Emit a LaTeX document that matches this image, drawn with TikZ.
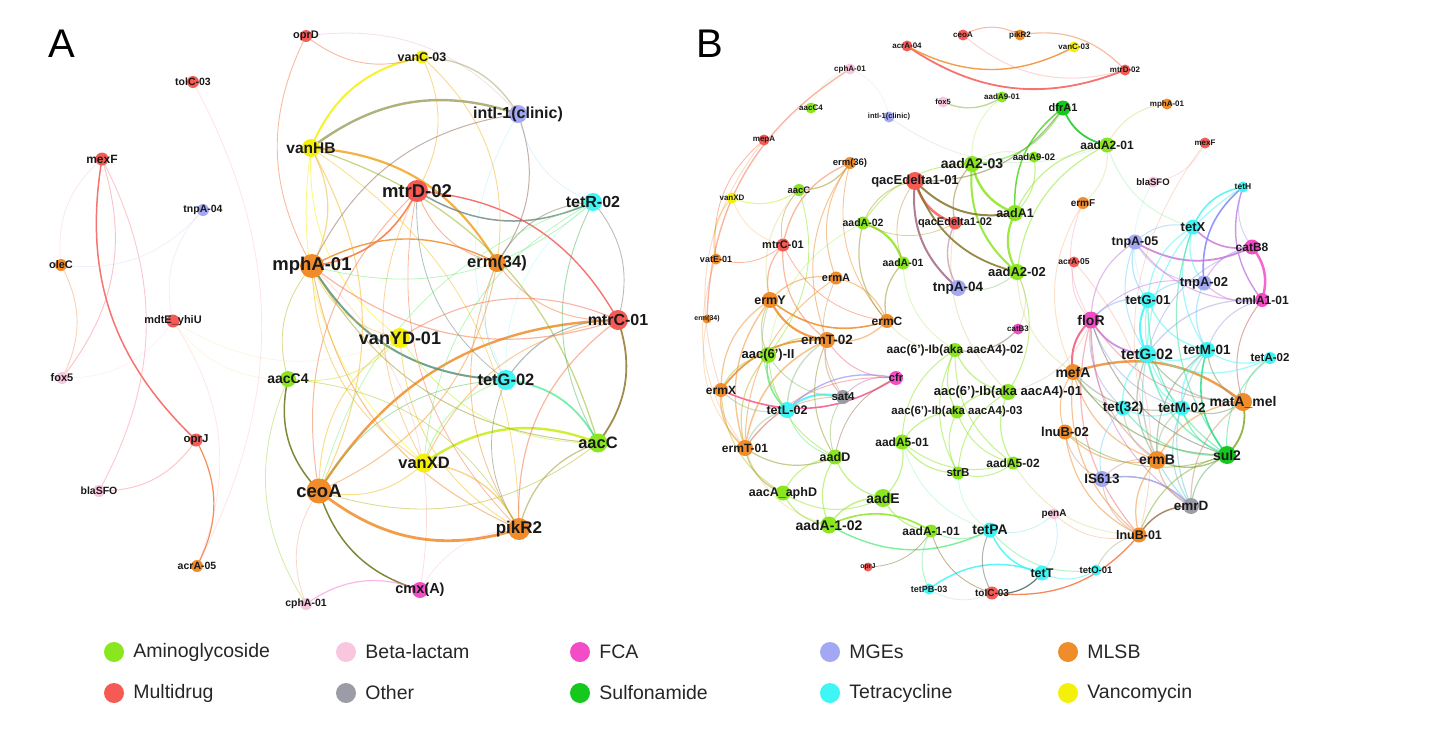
\documentclass[tikz,border=0pt]{standalone}
\usepackage{fontspec}
\setmainfont{Liberation Sans}
\usetikzlibrary{positioning}
\definecolor{am}{HTML}{8AE61E}
\definecolor{bl}{HTML}{F8C6DE}
\definecolor{fc}{HTML}{F24CC6}
\definecolor{mg}{HTML}{A3A8F5}
\definecolor{ml}{HTML}{F08C2A}
\definecolor{mu}{HTML}{F55A55}
\definecolor{ot}{HTML}{9C9CA6}
\definecolor{su}{HTML}{14C81E}
\definecolor{te}{HTML}{40F5F5}
\definecolor{va}{HTML}{F5F00A}
\pgfdeclarelayer{bg}
\pgfsetlayers{bg,main}

\begin{document}
\begin{tikzpicture}[x=1pt,y=1pt,
  gn/.style={circle,fill=#1,inner sep=0pt},
  lab/.style={font=\bfseries\fontsize{#1}{#1}\selectfont,text=black!90,inner sep=0pt},
  lk/.style={line width=#1,line cap=round}]
\useasboundingbox (0,0) rectangle (1430,-734);

\node[font=\fontsize{40}{40}\selectfont,inner sep=0pt] (pA) at (62,-44) {A};
\node[font=\fontsize{40}{40}\selectfont,inner sep=0pt] (pB) at (710,-44) {B};

\foreach \nm/\px/\py/\col/\d/\fs/\lbl in {
  aoprD/306/36/mu/12/11/oprD, atolC/193/82/mu/12/10.5/tolC-03,
  amexF/102/159/mu/13/12/mexF, atnpA/203/210/mg/12/10.5/tnpA-04,
  aoleC/61/265/ml/12/11/oleC, amdtE/173/321/mu/13/11/mdtE\_yhiU,
  afox/62/378/bl/12/11/fox5, aoprJ/196/440/mu/13/11.5/oprJ,
  abla/99/491/bl/12/10.5/blaSFO, aacrA/197/566/ml/12/10.5/acrA-05,
  acphA/306/604/bl/12/10.5/cphA-01, avanC/422/57/va/13/12.5/vanC-03,
  aintI/518/114/mg/18/16/intI-1(clinic), avanHB/311/148/va/18/15.5/vanHB,
  amtrD/417/191/mu/22/18.5/mtrD-02, atetR/593/202/te/18/16/tetR-02,
  amphA/312/266/ml/24/18.5/mphA-01, aerm/497/263/ml/18/16.5/erm(34),
  amtrC/618/320/mu/20/16/mtrC-01, avanYD/400/338/va/20/18/vanYD-01,
  aaacC4/288/379/am/16/14/aacC4, atetG/506/380/te/20/16.5/tetG-02,
  aaacC/598/443/am/19/16.5/aacC, avanXD/424/463/va/19/16.5/vanXD,
  aceoA/319/491/ml/25/18.5/ceoA, apikR/519/529/ml/22/17/pikR2,
  acmx/420/590/fc/16/14.5/cmx(A)}
  \node[gn=\col,minimum size=\d pt,label={[lab=\fs]center:\lbl}] (\nm) at (\px,-\py) {};

\foreach \nm/\px/\py/\col/\d/\fs/\lbl in {
  bacrAf/907/46/mu/11/8/acrA-04, bceoA/963/35/mu/11/8/ceoA,
  bpikR/1020/35/ml/11/8/pikR2, bvanC/1074/47/va/11/8/vanC-03,
  bmtrD/1125/70/mu/11/8/mtrD-02, bcphA/850/69/bl/11/8/cphA-01,
  baacCf/811/108/am/11/8/aacC4, bintI/889/117/mg/11/7.5/intI-1(clinic),
  bfox/943/102/bl/11/7.5/fox5, baadNa/1002/97/am/11/8/aadA9-01,
  bmepA/764/140/mu/11/8/mepA, bmphA/1167/104/ml/11/8/mphA-01,
  bmexF/1205/143/mu/11/8/mexF, bvanXD/732/198/va/11/8/vanXD,
  bermSix/850/163/ml/12/9.5/erm(36), baacC/799/190/am/12/9.5/aacC,
  bqacA/915/181/mu/18/13/qacEdelta1-01, baadTc/972/164/am/16/14/aadA2-03,
  bdfrA/1063/108/su/15/11/dfrA1, baadTa/1107/145/am/15/12/aadA2-01,
  baadNb/1034/157/am/11/9.5/aadA9-02, bblaS/1153/182/bl/11/9.5/blaSFO,
  btetH/1243/187/te/11/8.5/tetH, bermF/1083/203/ml/12/10/ermF,
  baadOne/1015/213/am/16/12.5/aadA1, baadAb/863/223/am/13/10.5/aadA-02,
  bqacB/955/223/mu/13/11/qacEdelta1-02, bmtrC/783/245/mu/13/11/mtrC-01,
  bvatE/716/259/ml/11/9/vatE-01, baadAa/903/263/am/13/10.5/aadA-01,
  baadTb/1017/272/am/16/13/aadA2-02, bermA/836/278/ml/13/11/ermA,
  btnpAd/958/288/mg/16/13.5/tnpA-04, bermY/770/300/ml/16/12.5/ermY,
  bermTF/707/319/ml/9/7/erm(34), bermC/887/321/ml/14/12/ermC,
  bermTb/827/340/ml/16/13.5/ermT-02, baacII/768/355/am/16/13/aac(6')-II,
  bcatBt/1018/329/fc/11/8/catB3, baacIbb/955/350/am/14/12/aac(6')-Ib(aka aacA4)-02,
  bcfr/896/378/fc/14/11/cfr, bermX/721/390/ml/14/12/ermX,
  bsat/843/397/ot/14/11.5/sat4, baacIba/1008/392/am/16/13/aac(6')-Ib(aka aacA4)-01,
  baacIbc/957/412/am/13/11.5/aac(6')-Ib(aka aacA4)-03, btetL/787/410/te/16/12.5/tetL-02,
  bermTa/745/448/ml/16/12/ermT-01, baadD/835/457/am/15/12.5/aadD,
  baadFa/902/442/am/15/12/aadA5-01, bstrB/958/473/am/13/11.5/strB,
  baadFb/1013/463/am/13/12/aadA5-02, baacA/783/493/am/15/12.5/aacA\_aphD,
  baadE/883/498/am/18/14/aadE, baadIb/829/525/am/17/14/aadA-1-02,
  baadIa/931/531/am/13/12/aadA-1-01, btetPA/990/530/te/15/14/tetPA,
  boprJ/868/567/mu/9/7/oprJ, btetPB/929/589/te/11/9/tetPB-03,
  btolC/992/593/mu/13/10/tolC-03, btetT/1042/573/te/15/12.5/tetT,
  btetO/1096/570/te/11/9.5/tetO-01, bpenA/1054/514/bl/11/10/penA,
  blnuBa/1139/535/ml/15/12.5/lnuB-01, bemrD/1191/506/ot/16/13.5/emrD,
  bIS/1102/479/mg/16/13.5/IS613, bermB/1157/460/ml/18/14/ermB,
  bsul/1227/455/su/18/14/sul2, blnuBb/1065/432/ml/15/13/lnuB-02,
  btetTT/1123/408/te/15/13.5/tet(32), btetMb/1182/408/te/15/13.5/tetM-02,
  bmatA/1243/402/ml/18/14/matA\_mel, bmefA/1073/372/ml/16/14/mefA,
  btetGb/1147/354/te/18/15/tetG-02, btetMa/1207/350/te/16/13.5/tetM-01,
  btetAb/1270/358/te/12/11.5/tetA-02, bfloR/1091/320/fc/17/14/floR,
  btetGa/1148/300/te/16/13/tetG-01, bcml/1262/300/fc/14/12/cmlA1-01,
  btnpAb/1204/283/mg/15/13/tnpA-02, bacrAe/1074/262/mu/11/8.5/acrA-05,
  btnpAe/1135/242/mg/15/12.5/tnpA-05, btetX/1193/227/te/15/13/tetX,
  bcatBe/1252/247/fc/15/12/catB8}
  \node[gn=\col,minimum size=\d pt,label={[lab=\fs]center:\lbl}] (\nm) at (\px,-\py) {};

\begin{pgfonlayer}{bg}
\foreach \p/\q/\col/\w in {
  aceoA/apikR/ml/2.8, aintI/avanHB/va!50!mg!80!black/2.4, avanC/avanHB/va/2,
  aerm/avanHB/ml!75!va/2.2, amtrC/aceoA/ml/2.4, aaacC/avanXD/am!45!va/2.4,
  aaacC/atetG/am!40!te/1.8, amphA/atetG/ml!35!te!70!black/2,
  amtrD/atetR/mu!45!te!80!black/1.5, aaacC/amtrC/mu!50!am!75!black/1.8,
  amtrC/amtrD/mu/1.4, amphA/amtrD/mu!50!ml/1.6, aerm/amphA/ml/1.4,
  aceoA/acmx/ml!40!am!60!black/1.5, aaacC4/aceoA/ml!40!am!60!black/1.5,
  amexF/aoprJ/mu/1.5, aacrA/aoprJ/ml!60!mu/1.2,
  bacrAf/bmtrD/mu/1.8, bqacA/bqacB/mu/2.5, bqacA/btnpAd/mu!50!mg!80!black/2,
  baadTc/baadOne/am/2.4, baadTc/baadTb/am/2, baadOne/baadTb/am/2.2,
  bqacA/baadOne/mu!45!am!70!black/2, bqacA/baadTb/mu!45!am!70!black/1.8,
  baadAa/baadAb/am/2.2, bermY/bermTb/ml/2.2, bermTb/bermX/ml/1.8,
  bsat/btetL/te/2, bermX/bcfr/mu!50!fc/1.6, bfloR/bmefA/mu!70!fc/2,
  bcml/bcatBe/fc/2.5, bmatA/bmefA/ml/2.4, btetX/bcatBe/fc!55!mg/1.6,
  btnpAe/bcatBe/mg!45!fc/1.8, btetH/btnpAb/mg!80!blue/1.6, btetH/bcml/mg!60!fc/1.4,
  btetH/btetX/te/1.5, btetGa/btetGb/te/2, bfloR/btetGb/fc!40!mg/1.8,
  btetMa/bsul/su!50!te/1.6, bsul/bmatA/su!50!ml/1.8, bemrD/bIS/mg!70!ot/1.6,
  bemrD/blnuBa/ot!50!ml!80!black/1.5, baadIa/baadIb/am/1.6,
  baadIb/btetPA/am!50!te/1.4, btetT/btetPB/te/1.5, btetPA/btetT/te/1.5,
  btolC/blnuBa/mu!50!ml/1.3, btolC/btetT/mu!40!te!55!black/1.2,
  bdfrA/baadTa/su/1.8, bdfrA/baadOne/su!50!am/1.5, bermY/bermC/ml/1.6,
  baacII/btetL/am!50!te/1.6, bcfr/btetL/mg/1.3, bacrAf/bvanC/ml/1.4}
  \draw[lk=\w pt,draw=\col,draw opacity=.85] (\p.center) to[bend right=28] (\q.center);

\foreach \p/\q/\col/\w in {
  aoprD/avanC/ml!50!mu/.9, aoprD/amphA/ml!60!mu/.9, aintI/avanC/va!50!mg!80!black/1.4,
  amtrD/avanC/ml!60!va/.9, aerm/avanC/ml!60!va/.9, avanHB/avanYD/va/.9,
  aceoA/avanHB/ml!60!va/1.1, amphA/avanHB/ml!60!va/1.2, aaacC/avanHB/va!50!am!75!black/1.3,
  avanHB/avanXD/va/.8, apikR/avanHB/va!50!ml/.8, aintI/amphA/mg!40!ml!65!black/1,
  aerm/aintI/mg!40!ml!65!black/1, amtrD/aerm/mu!50!ml/1, amtrD/aceoA/mu!50!ml/1,
  amtrD/avanXD/mu!50!va/.8, amtrD/atetG/mu!40!te!70!black/.8, amtrD/apikR/mu!50!ml/.8,
  atetR/aerm/te!45!ml!70!black/1, amtrC/atetR/te!45!mu!75!black/.9,
  atetR/aaacC/te!45!am!75!black/.9, amphA/atetR/te!40!am/.8, atetR/avanXD/te!40!am/.8,
  atetR/aceoA/te!40!am/.7, amphA/aaacC/ml!50!am!80!black/1, amphA/avanXD/ml!60!va/.9,
  amphA/apikR/ml/1.1, amphA/aaacC4/ml!50!am/.9, amphA/avanYD/ml!50!va/.9,
  amphA/amtrC/mu!60!ml/1.2, aerm/amtrC/ml!60!mu/1, aceoA/aerm/ml/1, aerm/apikR/ml/.9,
  aerm/atetG/ml!40!te/.7, amtrC/atetG/mu!40!te!70!black/1.2, amtrC/avanXD/mu!60!va/1,
  amtrC/avanYD/mu!70!ml/1.1, avanYD/aceoA/va!50!ml/1, avanYD/apikR/va!50!ml/.9,
  avanYD/aaacC/va!50!am/.8, atetG/aceoA/te!40!am!80!black/.8, atetG/apikR/te!40!ml!70!black/.8,
  aceoA/aaacC/am!50!ml/.9, aceoA/avanXD/va!50!ml/1, apikR/avanXD/ml!70!va/1.4,
  aaacC/apikR/am!50!ml!80!black/1.3, amtrC/apikR/mu!60!ml/1.2, atetG/avanXD/te!50!va/1.3,
  aaacC4/acphA/am!70!bl/.9, apikR/aaacC4/am!60!ml/.8, aaacC4/avanYD/am!50!va/.8,
  aceoA/acphA/bl!60!ml/.8, acmx/acphA/fc!70!bl/1.2, afox/amexF/mu!60!bl/.9,
  abla/amexF/mu!50!bl/.9, afox/aoleC/ml!60!bl/.9, abla/aoprJ/mu!50!bl/1,
  bmtrD/bpikR/ml!60!mu/1.2, bpikR/bceoA/mu!50!ml/1, bfox/baadNa/am!80!bl!80!black/1.4,
  bcphA/bermTF/mu!60!ml/1.4, bvanXD/bvatE/va!50!ml/1, bmepA/bvatE/mu!60!ml/.8,
  bvanXD/baacC/va!50!am/1, baacC/bermSix/am!50!ml!80!black/1.3, baacC/bmtrC/am!50!mu/.9,
  baacII/baacC/am/.9, bermSix/bmtrC/mu!50!ml/1.3, bermSix/bermA/ml/1,
  bermSix/bermC/ml/.9, bermSix/bermTb/ml/1, bmtrC/bermY/mu!50!ml/1.2,
  bmtrC/bermTb/mu!50!ml/1.2, bvatE/bmtrC/mu!50!ml/.8, bmtrC/bermC/mu!50!ml/.8,
  bermA/bermY/ml/1.2, bermC/bermA/ml/1.1, bermA/bermTa/ml/1, bermA/bsat/ml!50!ot/.8,
  bermY/bermX/ml/1.2, bermY/baacII/ml!50!am/1.2, bermY/btetL/ml!50!te/1,
  bermY/bermTa/ml/1.4, bermTb/bermC/ml/1.4, bermTb/btetL/ml!50!te/1.4,
  bermTb/bsat/ml!50!ot/1.2, bermTb/bcfr/ml!50!fc/1, bermTb/bermTa/ml/1.6,
  bermTb/baacII/ml!50!am/1.2, bermTb/baadD/ml!50!am!80!black/1, baacII/bermX/am!50!ml/1.2,
  baacII/bermTa/am!50!ml/1.2, baacII/baadD/am/1, baacII/bsat/am!50!ot/1,
  bermX/btetL/ml!50!te/1.2, bermX/bermTa/ml/1.4, bermX/baacA/ml!50!am/1,
  btetL/bermTa/te!50!ml/1.2, btetL/baadD/te!50!am/1, bcfr/bsat/fc!50!ot/1,
  bcfr/bermTa/fc!50!ml/1, bcfr/baadD/fc!50!am!80!black/.9, bsat/baadD/ot!50!am/1,
  bsat/bermTa/ot!50!ml/1, bermTa/baadD/ml!50!am!80!black/1.2,
  bermTa/baacA/ml!50!am!80!black/1.2, baadD/baacA/am/1.1, baadD/baadE/am/1.3,
  baadD/baadIb/am/1.2, baacA/baadIb/am/1.2, baacA/baadE/am/1, baadE/baadIb/am/1.6,
  baadE/baadFa/am/1.2, baadE/baadIa/am/1.3, baadIa/btetPA/am!50!te/1,
  baadIa/btetPB/am!50!te/1, baadIa/btolC/am!40!mu!70!black/.9, bqacA/baadAb/mu!50!am/1,
  bqacA/bdfrA/mu!50!su!80!black/1.2, bqacA/baadAa/mu!50!am/.9, baadTc/bdfrA/am!50!su/1.4,
  baadTc/bqacB/am!50!mu!80!black/1.3, baadTc/baadAb/am/1, baadOne/baadNb/am/1.1,
  baadTa/baadTb/am/1.2, baadTa/baadOne/am/1.2, bqacB/btnpAd/mu!50!mg!80!black/1.4,
  btnpAd/baadTb/mg!50!am/1, baadAb/bermC/am!50!ml!80!black/1.2,
  baadAa/bermC/am!50!ml!80!black/1.3, baadAb/bqacB/am!50!mu/.8,
  baacIbb/baacIba/am/1.3, baacIbb/baacIbc/am/1.2, baacIbb/baadFa/am/1,
  baacIbb/bstrB/am/1, baacIbb/bcatBt/am!50!fc!70!black/1.2, baacIbb/baadFb/am/1,
  baacIba/baacIbc/am/1.2, baacIba/baadFb/am/1.2, baacIba/bstrB/am/1,
  baacIba/baadTb/am/1, baacIbc/baadFa/am/1.2, baacIbc/bstrB/am/1,
  baacIbc/baadFb/am/1, baadFa/bstrB/am/1.2, baadFa/baadFb/am/1, bstrB/baadFb/am/1,
  btetPA/btolC/te!50!mu!60!black/1, btetPA/btetO/te!50!am/1, btetPA/bpenA/te!50!bl/.8,
  btetT/bpenA/te!50!bl/.8, btetT/btetO/te/1, boprJ/baadIa/mu!40!am!70!black/.8,
  bpenA/blnuBa/bl!50!ml/.7, btetH/btetGb/te/1.2, btetH/bcatBe/mg/1,
  btetX/btnpAe/te!50!mg/1, btetX/btnpAb/te/1.2, btetX/btetGa/te/1.2,
  btetX/btetMa/te/1.2, btetX/bsul/te!50!su/1.2, btnpAe/btnpAb/mg/1,
  btnpAe/bcml/mg!50!fc/1.2, btnpAe/btetGa/mg!50!te/1.2, btnpAe/bfloR/mg!50!fc/1.2,
  btnpAe/btetGb/mg!50!te/1, bcatBe/btnpAb/fc!50!mg/1.2, bcatBe/btetGb/fc!50!te/1,
  btnpAb/bcml/mg!50!fc/1.2, btnpAb/btetGa/mg!50!te/1.2, btnpAb/btetMa/mg!50!te/1.2,
  btnpAb/bfloR/mg!50!fc/1, bcml/btetGb/fc!50!te/1.2, bcml/btetMa/fc!50!te/1,
  bcml/bmatA/fc!50!ml!80!black/1, btetGa/bfloR/te!40!mg!90!blue/1.3,
  btetGa/btetMa/te/1.4, btetGa/btetMb/te/1.2, btetGa/bsul/te!50!su/1.2,
  bfloR/btetTT/fc!50!te/1, bfloR/btetMb/fc!50!te/1, bfloR/bermB/fc!50!ml/1,
  bfloR/bsul/fc!50!su!80!black/1, bfloR/blnuBa/fc!50!ml/1.2, bfloR/bemrD/fc!50!ot/1,
  bfloR/bmatA/fc!50!ml/1, btetGb/btetMa/te/1.4, btetGb/btetTT/te/1.4,
  btetGb/btetMb/te/1.4, btetGb/bsul/te!50!su/1.4, btetGb/bermB/te!50!ml!80!black/1.2,
  btetGb/bemrD/te!50!ot/1.2, btetGb/bmatA/te!50!ml!80!black/1.2, btetGb/btetAb/te/1.2,
  btetMa/btetAb/te/1.2, btetMa/btetMb/te/1.4, btetMa/bmatA/te!50!ml!80!black/1.2,
  btetMa/bermB/te!50!ml!80!black/1.2, btetMa/bemrD/te!50!ot/1.2, btetAb/bmatA/te!50!ml/1,
  btetAb/bsul/te!50!su/1, bmefA/btetTT/ml!50!te/1.2, bmefA/blnuBb/ml/1,
  bmefA/bermB/ml/1.2, bmefA/bsul/ml!50!su!80!black/1.2, bmefA/btetMb/ml!50!te!80!black/1.2,
  bmefA/blnuBa/ml/1.2, btetTT/btetMb/te/1.2, btetTT/bermB/te!50!ml/1.2,
  btetTT/bsul/te!50!su/1.2, btetTT/bIS/te!50!mg/1, btetMb/bmatA/te!50!ml!80!black/1.2,
  btetMb/bsul/te!50!su/1.2, btetMb/bermB/te!50!ml/1.2, btetMb/bemrD/te!50!ot/1.2,
  bmatA/bermB/ml/1.4, bmatA/bemrD/ml!50!ot/1.2, blnuBb/bermB/ml/1.2,
  blnuBb/bsul/ml!50!su/1, blnuBb/blnuBa/ml/1.2, blnuBb/bIS/ml!50!mg/1,
  bermB/bsul/ml!50!su!80!black/1.4, bermB/bemrD/ml!50!ot/1.2, bermB/blnuBa/ml/1.3,
  bermB/bIS/ml!50!mg/1, bsul/bemrD/su!50!ot/1.2, bsul/blnuBa/su!50!ml/1.2,
  bIS/blnuBa/mg!50!ml/1, blnuBa/btetO/ml!60!te/1}
  \draw[lk=\w pt,draw=\col,draw opacity=.5] (\p.center) to[bend right=28] (\q.center);

\foreach \p/\q/\col/\w in {
  aintI/aoprD/mu!50!mg/.8, aintI/atetR/mg!50!te/.7, aintI/atetG/mg!40!te/.7,
  atetR/atetG/te/.7, acmx/amphA/fc!40!ml/.7, apikR/acmx/fc!40!bl/.8,
  amexF/aoleC/mu!40!bl/.8, aoleC/atnpA/mg!50!bl/.8, aacrA/atolC/mu!40!bl/.9,
  aacrA/amdtE/mu!40!bl/.8, atnpA/amdtE/mg!50!bl/.8, afox/amdtE/bl/.8,
  amdtE/aaacC4/va!40!bl/.8, amdtE/avanYD/va!40!bl/.8,
  bceoA/bmtrD/mu/1, bcphA/baacCf/bl!50!am/.8, bintI/baadTa/mg!50!am/.8,
  bintI/bcphA/mg!50!bl/.7, bmepA/bermX/mu!50!ml/1, bacrAe/bfloR/mu!50!fc/1,
  blnuBa/bacrAe/mu!50!ml/1, bermF/bfloR/ml!50!fc/1, bermF/bmefA/ml/1,
  bermF/baadTa/ml!50!am/1, bblaS/bmexF/bl!50!mu/1, bblaS/btetGa/bl!50!te/1,
  bmphA/baadTa/ml!50!am/1.2, bmexF/bermB/mu!50!ml/.8, bcatBt/baadTb/fc!50!am/1,
  baadNb/baadTc/am/1, baadNa/baadTc/am/1, baadTa/btetX/am!50!te/1.2,
  bvatE/bermTa/ml/1, bermTF/bermTa/ml/1, bvanXD/bmtrC/va!50!mu/1,
  baacC/bermY/am!50!ml/1, bermC/baacIbb/ml!50!am/1, baadTb/bmefA/am!50!ml/1,
  baacIba/bfloR/am!50!fc/1, baadFb/blnuBa/am!50!ml/1, btetPB/btolC/te!50!mu/.8,
  bstrB/btetPA/am!50!te/1, baadFa/btetPA/am!50!te/1, baadAa/baacIbb/am/1,
  bqacB/baacIba/mu!50!am/1, bermTa/baadIb/ml!50!am/1, baadAb/baacII/am/1}
  \draw[lk=\w pt,draw=\col,draw opacity=.25] (\p.center) to[bend right=28] (\q.center);
\end{pgfonlayer}

\foreach \lgt/\col/\px/\py [count=\i] in {Aminoglycoside/am/114/652,
  Beta-lactam/bl/346/652, FCA/fc/580/652, MGEs/mg/830/652, MLSB/ml/1068/652,
  Multidrug/mu/114/693, Other/ot/346/693, Sulfonamide/su/580/693,
  Tetracycline/te/830/693, Vancomycin/va/1068/693}{
  \node[gn=\col,minimum size=20pt] (lg\i) at (\px,-\py) {};
  \node[right=9pt of lg\i,font=\fontsize{19.5}{19.5}\selectfont,text=black!85,inner sep=0pt] (lt\i) {\lgt};
}
\end{tikzpicture}
\end{document}
